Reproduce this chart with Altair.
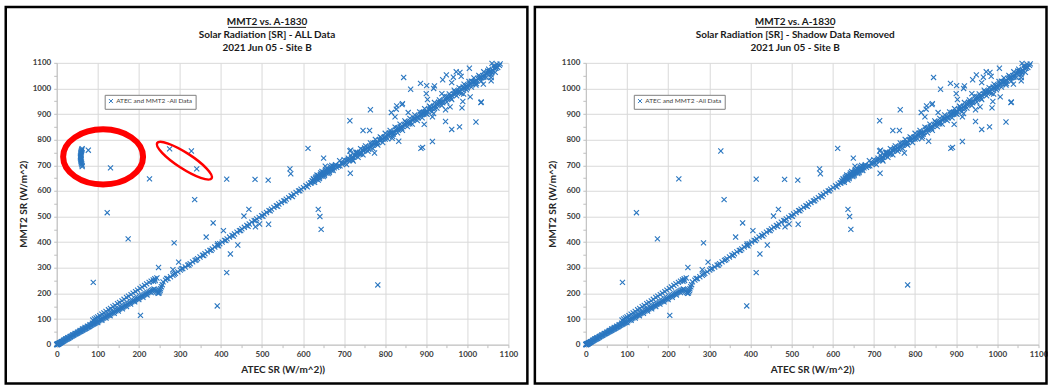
import altair as alt
import pandas as pd

# ---------------- text ----------------
SERIES = "ATEC and MMT2 -All Data"
TITLE_TOP = "MMT2 vs. A-1830"
TITLE_LEFT = "Solar Radiation [SR] - ALL Data"
TITLE_RIGHT = "Solar Radiation [SR] - Shadow Data Removed"
TITLE_DATE = "2021 Jun 05 - Site B"
X_TITLE = "ATEC SR (W/m^2))"
Y_TITLE = "MMT2 SR (W/m^2)"
TICK_VALUES = [0, 50, 100, 150, 200, 250, 300, 350, 400, 450, 500, 550,
               600, 650, 700, 750, 800, 850, 900, 950, 1000, 1050, 1100]

# ---------------- data ----------------
# start of the line, near the origin
SEG0_X = [0, 0, 1, 1, 2, 2, 3, 3, 4, 5, 5, 6, 7, 8, 9, 10, 11, 12, 13, 14, 16, 18, 20, 22, 24, 26, 28, 30, 32, 34,
          36, 38, 40, 42, 44, 46, 48, 50, 52, 54, 56, 58, 60, 62, 64, 66, 68, 70, 72, 74, 76, 78, 80, 82, 84, 86, 88, 90, 92, 94,
          3, 7, 12, 17, 22, 27, 33, 39, 45, 51, 57, 63, 69, 75, 81, 87, 93]
SEG0_Y = [0, 1, 0, 1, 0, 2, 1, 3, 2, 3, 5, 4, 6, 6, 8, 9, 9, 11, 12, 12, 14, 16, 18, 20, 22, 23, 25, 27, 29, 31,
          33, 34, 36, 38, 40, 42, 43, 45, 47, 49, 51, 52, 54, 56, 58, 60, 61, 63, 65, 67, 69, 70, 72, 74, 76, 78, 79, 81, 83, 85,
          4, 7, 12, 17, 22, 27, 32, 38, 44, 49, 55, 61, 67, 72, 78, 84, 90]
# lower branch 100-240
LOW_X = [96, 99, 102, 105, 108, 111, 114, 117, 120, 123, 126, 129, 132, 135, 138, 141, 144, 147, 150, 153,
         156, 159, 162, 165, 168, 171, 174, 177, 180, 183, 186, 189, 192, 195, 198, 201, 204, 207, 210, 213,
         216, 219, 222, 225, 228, 231, 234, 237,
         100, 110, 120, 130, 140, 150, 160, 170, 180, 190, 200, 210, 220, 230]
LOW_Y = [87, 90, 93, 96, 99, 101, 104, 107, 110, 113, 115, 118, 121, 124, 126, 129, 132, 135, 137, 140,
         143, 146, 148, 151, 154, 157, 159, 162, 165, 168, 170, 173, 176, 179, 181, 184, 187, 190, 192, 195,
         198, 201, 203, 206, 209, 212, 214, 217,
         86, 95, 104, 113, 122, 131, 140, 149, 158, 167, 176, 185, 194, 203]
# upper branch 90-240
UP_X = [88, 92, 96, 100, 105, 110, 115, 120, 126, 131, 137, 142, 148, 153, 159, 164, 170, 175, 181, 186,
        192, 197, 203, 208, 214, 219, 225, 230, 235, 239]
UP_Y = [96, 100, 104, 108, 113, 119, 124, 130, 136, 141, 148, 153, 160, 165, 171, 177, 184, 189, 195, 201,
        207, 213, 219, 225, 231, 237, 243, 248, 253, 257]
# dip around 245
DIP_X = [239, 241, 243, 245, 247, 249, 250, 252, 253, 255, 257, 240, 236, 244]
DIP_Y = [215, 212, 208, 204, 200, 201, 206, 211, 218, 226, 234, 250, 247, 260]
# middle part of the line
MID_X = [259, 265, 271, 277, 283, 289, 295, 301, 307, 313, 319, 325, 331, 337, 343, 349, 355, 361, 367, 373,
         379, 385, 391, 397, 403, 409, 415, 421, 427, 433, 439, 445, 451, 457, 463, 469, 475, 481, 487, 493,
         499, 505, 511, 517, 523, 529, 535, 541, 547, 553, 559, 565, 571, 577, 583, 589, 595, 601, 607, 613, 618,
         268, 286, 304, 322, 340, 358, 376, 394, 412, 430, 448, 466, 484, 502, 520, 538, 556, 574, 592, 610]
MID_Y = [245, 252, 258, 265, 271, 278, 284, 291, 297, 303, 310, 316, 323, 329, 336, 342, 349, 355, 362, 368,
         374, 381, 387, 394, 400, 407, 413, 420, 426, 432, 439, 445, 452, 458, 465, 471, 478, 484, 491, 497,
         503, 510, 516, 523, 529, 536, 542, 549, 555, 561, 568, 574, 581, 587, 594, 600, 607, 613, 620, 626, 631,
         258, 275, 296, 311, 331, 348, 368, 386, 406, 424, 445, 462, 484, 501, 522, 540, 561, 578, 600, 616]
# dense knot 620-680
KNOT_X = [620, 622, 624, 626, 628, 630, 632, 634, 636, 638, 640, 642, 644, 646, 648, 650, 652, 654, 656, 658,
          660, 662, 664, 666, 668, 670, 672, 674, 676, 678, 625, 631, 637, 643, 649, 655, 661, 667, 673, 679,
          628, 634, 640, 646, 652, 658, 664, 670]
KNOT_Y = [632, 640, 636, 644, 640, 650, 646, 656, 650, 660, 654, 664, 658, 668, 662, 672, 666, 676, 670, 680,
          674, 684, 678, 688, 682, 692, 686, 696, 690, 698, 648, 654, 642, 670, 656, 682, 668, 694, 680, 702,
          634, 662, 648, 676, 660, 688, 672, 700]
# upper band 680-1080
BAND_X = [682, 686, 690, 694, 698, 702, 706, 710, 714, 718, 722, 726, 730, 734, 738, 742, 746, 750, 754, 758,
          762, 766, 770, 774, 778, 782, 786, 790, 794, 798, 802, 806, 810, 814, 818, 822, 826, 830, 834, 838,
          842, 846, 850, 854, 858, 862, 866, 870, 874, 878, 882, 886, 890, 894, 898, 902, 906, 910, 914, 918,
          922, 926, 930, 934, 938, 942, 946, 950, 954, 958, 962, 966, 970, 974, 978, 982, 986, 990, 994, 998,
          1002, 1006, 1010, 1014, 1018, 1022, 1026, 1030, 1034, 1038, 1042, 1046, 1050, 1054, 1058, 1062, 1066, 1070, 1074, 1078]
BAND_Y = [692, 698, 698, 706, 708, 710, 718, 720, 722, 730, 732, 738, 738, 746, 748, 750, 758, 760, 762, 770,
          772, 778, 778, 786, 788, 790, 798, 800, 802, 810, 812, 818, 818, 826, 828, 830, 838, 840, 842, 850,
          852, 858, 858, 866, 868, 870, 878, 880, 882, 890, 892, 898, 898, 906, 908, 910, 918, 920, 922, 930,
          932, 938, 938, 946, 948, 950, 958, 960, 962, 970, 972, 978, 978, 986, 988, 990, 998, 1000, 1002, 1010,
          1012, 1018, 1018, 1026, 1028, 1030, 1038, 1040, 1042, 1050, 1052, 1058, 1058, 1066, 1068, 1070, 1078, 1080, 1082, 1090]
SPREAD_X = [700, 716, 728, 740, 752, 764, 776, 788, 800, 812, 824, 836, 848, 860, 872, 884, 896, 908, 920, 932,
            944, 956, 968, 980, 992, 1004, 1016, 1028, 1040, 1052, 1064, 1072,
            706, 722, 734, 746, 758, 770, 782, 794, 806, 818, 830, 842, 854, 866, 878, 890, 902, 914, 926, 938,
            950, 962, 974, 986, 998, 1010, 1022, 1034, 1046, 1058, 1068,
            710, 730, 750, 770, 790, 810, 830, 850, 870, 890, 910, 930, 950, 970, 990, 1010, 1030, 1050, 1070,
            720, 740, 760, 780, 800, 820, 840, 860, 880, 900, 920, 940, 960, 980, 1000, 1020, 1040, 1060]
SPREAD_Y = [722, 739, 751, 765, 776, 787, 801, 811, 825, 836, 849, 861, 873, 883, 897, 908, 921, 931, 945, 955,
            969, 979, 993, 1003, 1017, 1027, 1041, 1051, 1065, 1075, 1087, 1095,
            703, 717, 731, 741, 755, 765, 779, 789, 803, 813, 827, 837, 851, 861, 875, 885, 899, 909, 923, 933,
            947, 957, 971, 981, 995, 1005, 1019, 1029, 1043, 1053, 1063,
            728, 746, 768, 786, 808, 826, 846, 868, 886, 906, 928, 946, 968, 986, 1006, 1028, 1046, 1068, 1086,
            722, 744, 762, 784, 802, 822, 844, 862, 884, 902, 922, 944, 962, 984, 1002, 1022, 1044, 1062]
# scattered points
OUT_X = [89, 123, 174, 204, 226, 248, 283, 286, 297, 328, 336, 364, 381, 391, 392, 406, 414, 414, 423, 441,
         456, 468, 484, 494, 483, 515, 516, 568, 570, 612, 637, 641, 644, 650, 654, 686, 689, 715, 714, 716,
         726, 732, 744, 714, 746, 762, 764, 774, 782, 817, 833, 815, 827, 841, 856, 824, 842, 828, 845, 862,
         886, 901, 918, 920, 900, 903, 949, 966, 982, 1005, 985, 962, 940, 938, 947, 958, 989, 987, 991, 1007,
         1034, 1021, 981, 962, 947, 915, 887, 891, 895, 915, 918, 894, 1021, 1039, 1058, 1058, 1080, 1060, 973, 1033,
         731, 668]
OUT_Y = [243, 515, 413, 114, 647, 301, 293, 397, 322, 756, 566, 420, 475, 151, 393, 445, 281, 646, 354, 389,
         502, 528, 460, 471, 645, 642, 470, 686, 667, 766, 528, 500, 450, 728, 697, 698, 718, 669, 756, 759,
         738, 750, 760, 874, 836, 836, 917, 748, 233, 805, 794, 906, 919, 937, 906, 889, 941, 932, 1043, 997,
         1020, 1011, 1000, 1010, 980, 957, 1053, 1044, 1063, 1079, 1047, 1023, 1034, 980, 917, 928, 949, 924, 978, 967,
         947, 869, 850, 840, 871, 793, 766, 770, 860, 889, 902, 900, 1013, 1017, 1030, 1043, 1096, 1098, 1065, 945,
         750, 681]
# shadow points, only in the "ALL Data" panel
SHADOW_X = [62, 61, 61, 60, 60, 59, 59, 59, 59, 58, 58, 58, 58, 59, 59, 59, 60, 60, 61, 62, 62, 77, 131, 275, 341]
SHADOW_Y = [765, 762, 759, 756, 753, 750, 746, 743, 740, 737, 734, 731, 728, 724, 721, 717, 713, 709, 705, 700,
            695, 759, 690, 764, 686]
# red annotation ellipses (centres in data units)
ELL_BIG_X = [113]
ELL_BIG_Y = [733]
ELL_SMALL_X = [311]
ELL_SMALL_Y = [718]

# ---------------- styles ----------------
BLUE = "#2B77C0"
FONT = "Lato"
XPATH = "M -1 -1 L 1 1 M -1 1 L 1 -1"


def ellipse_path(r):
    k = 0.5523
    return (f"M 1 0 C 1 {k*r:.4f} {k:.4f} {r:.4f} 0 {r:.4f} "
            f"C {-k:.4f} {r:.4f} -1 {k*r:.4f} -1 0 "
            f"C -1 {-k*r:.4f} {-k:.4f} {-r:.4f} 0 {-r:.4f} "
            f"C {k:.4f} {-r:.4f} 1 {-k*r:.4f} 1 0 Z")


def frame_df(xs, ys):
    rows = []
    for xl, yl in zip(xs, ys):
        rows += list(zip(xl, yl))
    return pd.DataFrame({"x": [r[0] for r in rows], "y": [r[1] for r in rows], "series": SERIES})


shared = [(SEG0_X, SEG0_Y), (LOW_X, LOW_Y), (UP_X, UP_Y), (DIP_X, DIP_Y), (MID_X, MID_Y),
          (KNOT_X, KNOT_Y), (BAND_X, BAND_Y), (SPREAD_X, SPREAD_Y), (OUT_X, OUT_Y)]
left_df = frame_df([s[0] for s in shared] + [SHADOW_X], [s[1] for s in shared] + [SHADOW_Y])
right_df = frame_df([s[0] for s in shared], [s[1] for s in shared])

ONE = pd.DataFrame({"k": [0]})
PLOT_H = 282
MAJOR = "datum.value % 100 === 0"


def encodings(width):
    xaxis = alt.Axis(values=TICK_VALUES, format="d", labelExpr=f"{MAJOR} ? datum.label : ''",
                     labelFlush=False, labelOverlap=False, title=X_TITLE, titleX=width / 2, titleY=25,
                     titleAlign="center", titleBaseline="middle", grid=True,
                     gridOpacity={"condition": {"test": MAJOR, "value": 1}, "value": 0})
    yaxis = alt.Axis(values=TICK_VALUES, format="d", labelExpr=f"{MAJOR} ? datum.label : ''",
                     labelFlush=False, labelOverlap=False, title=Y_TITLE, titleX=-33, titleY=PLOT_H / 2,
                     titleAlign="center", titleBaseline="middle", titleAngle=270, grid=True,
                     gridOpacity={"condition": {"test": MAJOR, "value": 1}, "value": 0})
    x = alt.X("x:Q", scale=alt.Scale(domain=[0, 1100], nice=False, zero=False), axis=xaxis)
    y = alt.Y("y:Q", scale=alt.Scale(domain=[0, 1100], nice=False, zero=False), axis=yaxis)
    return x, y


def panel(df, subtitle, width, cx, fx1, fx2, with_ellipses=False):
    x, y = encodings(width)
    frame = alt.Chart(ONE).mark_rect(fill="transparent", stroke="black", strokeWidth=2.5).encode(
        x=alt.value(fx1), x2=alt.value(fx2), y=alt.value(-56), y2=alt.value(321))
    tstyle = dict(font=FONT, fontSize=10, fontWeight="bold", color="#1a1a1a", align="center", baseline="middle")
    t1 = alt.Chart(ONE).mark_text(**tstyle).encode(x=alt.value(cx), y=alt.value(-41), text=alt.value(TITLE_TOP))
    t2 = alt.Chart(ONE).mark_text(**tstyle).encode(x=alt.value(cx), y=alt.value(-28), text=alt.value(subtitle))
    t3 = alt.Chart(ONE).mark_text(**tstyle).encode(x=alt.value(cx), y=alt.value(-15), text=alt.value(TITLE_DATE))
    uline = alt.Chart(ONE).mark_rule(color="#1a1a1a", strokeWidth=1).encode(
        x=alt.value(cx - 39), x2=alt.value(cx + 39), y=alt.value(-35.5))
    pts = alt.Chart(df).mark_point(shape=XPATH, filled=False, size=26, strokeWidth=1.1, opacity=1).encode(
        x=x, y=y,
        color=alt.Color("series:N", scale=alt.Scale(domain=[SERIES], range=[BLUE]),
                        legend=alt.Legend(title=None, orient="none", legendX=48, legendY=32,
                                          strokeColor="#808080", fillColor="white", padding=3,
                                          labelFont=FONT, labelFontSize=6.5, labelColor="#404040",
                                          symbolType=XPATH, symbolSize=16, symbolStrokeWidth=1,
                                          labelOffset=2, cornerRadius=0)))
    layers = [frame, t1, t2, t3, uline, pts]
    if with_ellipses:
        ell_big = alt.Chart(pd.DataFrame({"x": ELL_BIG_X, "y": ELL_BIG_Y})).mark_point(
            shape=ellipse_path(0.69), size=6400, filled=False, color="#FF0000", strokeWidth=6, opacity=1
        ).encode(x=x, y=y)
        ell_small = alt.Chart(pd.DataFrame({"x": ELL_SMALL_X, "y": ELL_SMALL_Y})).mark_point(
            shape=ellipse_path(0.24), size=4225, filled=False, color="#FF0000", strokeWidth=2.5, opacity=1, angle=33
        ).encode(x=x, y=y)
        layers += [ell_big, ell_small]
    return alt.layer(*layers).properties(width=width, height=PLOT_H)


left = panel(left_df, TITLE_LEFT, 452, 210.5, -51, 471, with_ellipses=True)
right = panel(right_df, TITLE_RIGHT, 453, 209.5, -51, 461)

chart = alt.hconcat(left, right, spacing=3.5).resolve_scale(color="independent").resolve_legend(
    color="independent"
).properties(
    padding={"left": 3.75, "top": 4.75, "right": 0, "bottom": 0}, background="white"
).configure_view(stroke=None).configure_axis(
    labelFont=FONT, labelFontSize=8, labelFontWeight="bold", labelColor="#404040", labelPadding=3,
    titleFont=FONT, titleFontSize=10, titleFontWeight="bold", titleColor="#262626",
    tickSize=3, tickColor="#BFBFBF", domainColor="#BFBFBF", gridColor="#D9D9D9", gridWidth=1
)

chart.save("out.html", embed_options={"renderer": "svg", "actions": False})
